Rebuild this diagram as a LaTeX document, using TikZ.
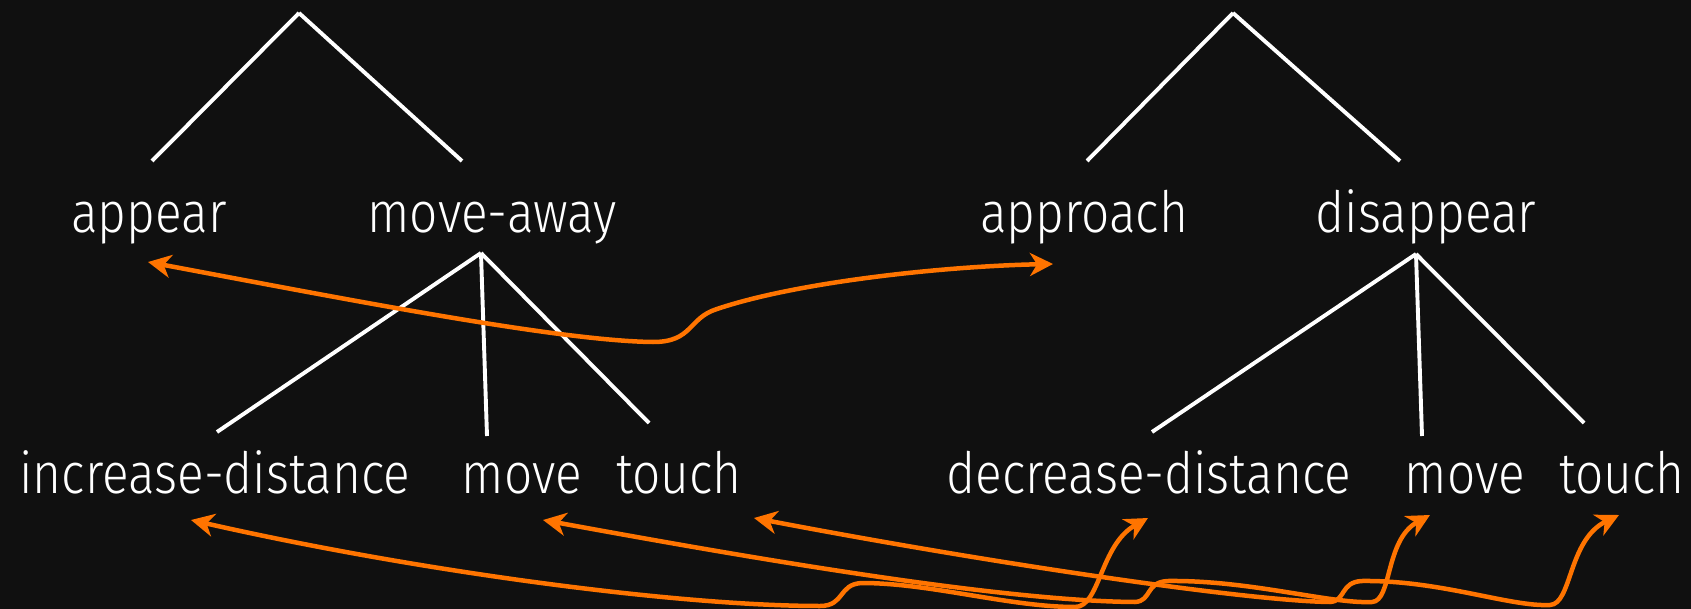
\documentclass[tikz,border=0pt]{standalone}
\usepackage{fontspec}
\setmainfont{Fira Sans Light}[FakeStretch=0.87]
\usetikzlibrary{arrows.meta}
\definecolor{bgdark}{HTML}{101010}
\definecolor{arrorange}{HTML}{FF7400}
\tikzset{
  word/.style={text=white, font=\fontsize{57}{62}\selectfont, inner sep=0pt, anchor=base},
  branch/.style={draw=white, line width=3.9pt},
  link/.style={draw=arrorange, line width=4.5pt,
    {Stealth[length=23pt,width=23pt,inset=7pt]}-{Stealth[length=23pt,width=23pt,inset=7pt]}},
}
\begin{document}
\begin{tikzpicture}[x=1pt,y=-1pt]
    \fill[bgdark] (0,0) rectangle (1691,609);
    \useasboundingbox (0,0) rectangle (1691,609);
    % left tree
    \coordinate (rootL) at (299,13);
    \node[word] (appear) at (149,233) {appear};
    \node[word] (moveaway) at (492,233) {move-away};
    \node[word] (incdist) at (215,493) {increase-distance};
    \node[word] (moveL) at (522,493) {move};
    \node[word] (touchL) at (679,493) {touch};
    \draw[branch] (rootL) -- ([xshift=3pt,yshift=72pt]appear.base);
    \draw[branch] (rootL) -- ([xshift=-30pt,yshift=72pt]moveaway.base);
    \draw[branch] ([xshift=-11pt,yshift=-20pt]moveaway.base) -- ([xshift=2pt,yshift=61pt]incdist.base);
    \draw[branch] ([xshift=-11pt,yshift=-20pt]moveaway.base) -- ([xshift=-35pt,yshift=57pt]moveL.base);
    \draw[branch] ([xshift=-11pt,yshift=-20pt]moveaway.base) -- ([xshift=-30pt,yshift=70pt]touchL.base);
    % right tree
    \coordinate (rootR) at (1233,13);
    \node[word] (approach) at (1084,233) {approach};
    \node[word] (disappear) at (1426,233) {disappear};
    \node[word] (decdist) at (1149,493) {decrease-distance};
    \node[word] (moveR) at (1465,493) {move};
    \node[word] (touchR) at (1622,493) {touch};
    \draw[branch] (rootR) -- ([xshift=3pt,yshift=72pt]approach.base);
    \draw[branch] (rootR) -- ([xshift=-26pt,yshift=72pt]disappear.base);
    \draw[branch] ([xshift=-10pt,yshift=-21pt]disappear.base) -- ([xshift=3pt,yshift=61pt]decdist.base);
    \draw[branch] ([xshift=-10pt,yshift=-21pt]disappear.base) -- ([xshift=-43pt,yshift=57pt]moveR.base);
    \draw[branch] ([xshift=-10pt,yshift=-21pt]disappear.base) -- ([xshift=-38pt,yshift=70pt]touchR.base);
    % links
    \draw[link] ([xshift=-1pt,yshift=-29pt]appear.base) .. controls (350,300) and (560,341) .. (653,342)
      .. controls (693,342) and (688,318) .. (717,309)
      .. controls (800,281) and (950,266) .. ([xshift=-31pt,yshift=-31pt]approach.base);
    \draw[link] ([xshift=-24pt,yshift=-27pt]incdist.base) .. controls (420,572) and (680,606) .. (820,606)
      .. controls (845,606) and (838,584) .. (862,583)
      .. controls (930,583) and (1010,607) .. (1075,607)
      .. controls (1100,607) and (1100,545) .. ([xshift=-1pt,yshift=-25pt]decdist.base);
    \draw[link] ([xshift=21pt,yshift=-27pt]moveL.base) .. controls (750,558) and (1000,601) .. (1135,602)
      .. controls (1152,601) and (1145,582) .. (1168,581)
      .. controls (1250,580) and (1330,604) .. (1372,602)
      .. controls (1392,601) and (1385,540) .. ([xshift=-35pt,yshift=-22pt]moveR.base);
    \draw[link] ([xshift=75pt,yshift=-25pt]touchL.base) .. controls (1000,565) and (1250,601) .. (1330,602)
      .. controls (1346,601) and (1340,582) .. (1362,581)
      .. controls (1440,580) and (1510,607) .. (1550,605)
      .. controls (1572,604) and (1568,540) .. ([xshift=-3pt,yshift=-22pt]touchR.base);
\end{tikzpicture}
\end{document}
